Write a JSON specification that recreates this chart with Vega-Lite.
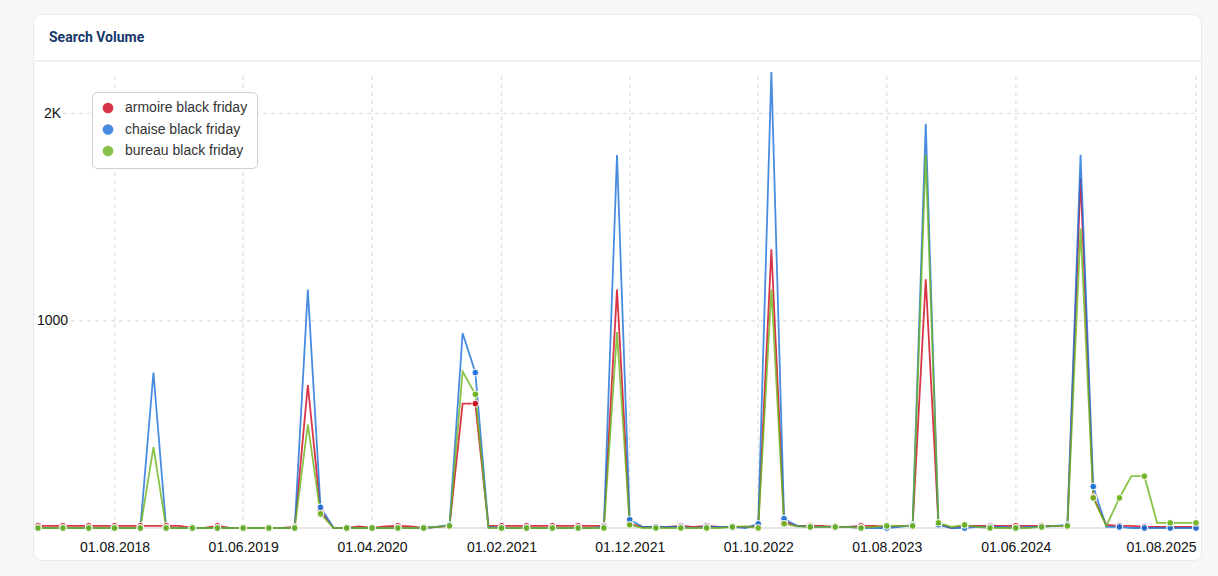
{
  "$schema": "https://vega.github.io/schema/vega-lite/v6.json",
  "autosize": {"type": "none"},
  "padding": {"left": 33, "top": 14, "right": 17, "bottom": 16},
  "width": 1168,
  "height": 546,
  "background": "#f7f7f7",
  "config": {
    "view": {"fill": "#ffffff", "stroke": "#e9e9e9", "strokeWidth": 1, "cornerRadius": 8},
    "font": "Liberation Sans"
  },
  "title": {
    "text": "Search Volume", "anchor": "start", "frame": "group", "orient": "top",
    "offset": -31, "dx": 16, "font": "Roboto", "fontSize": 14, "fontWeight": "bold", "color": "#17386b"
  },
  "data": {
    "values": [
      {"date": "2018-02-01", "armoire black friday": 10, "chaise black friday": 0, "bureau black friday": 0},
      {"date": "2018-03-01", "armoire black friday": 10, "chaise black friday": 0, "bureau black friday": 0},
      {"date": "2018-04-01", "armoire black friday": 10, "chaise black friday": 0, "bureau black friday": 0},
      {"date": "2018-05-01", "armoire black friday": 10, "chaise black friday": 0, "bureau black friday": 0},
      {"date": "2018-06-01", "armoire black friday": 10, "chaise black friday": 0, "bureau black friday": 0},
      {"date": "2018-07-01", "armoire black friday": 10, "chaise black friday": 0, "bureau black friday": 0},
      {"date": "2018-08-01", "armoire black friday": 10, "chaise black friday": 0, "bureau black friday": 0},
      {"date": "2018-09-01", "armoire black friday": 10, "chaise black friday": 0, "bureau black friday": 0},
      {"date": "2018-10-01", "armoire black friday": 10, "chaise black friday": 0, "bureau black friday": 0},
      {"date": "2018-11-01", "armoire black friday": 10, "chaise black friday": 750, "bureau black friday": 390},
      {"date": "2018-12-01", "armoire black friday": 10, "chaise black friday": 0, "bureau black friday": 0},
      {"date": "2019-01-01", "armoire black friday": 10, "chaise black friday": 0, "bureau black friday": 0},
      {"date": "2019-02-01", "armoire black friday": 0, "chaise black friday": 0, "bureau black friday": 0},
      {"date": "2019-03-01", "armoire black friday": 0, "chaise black friday": 0, "bureau black friday": 0},
      {"date": "2019-04-01", "armoire black friday": 10, "chaise black friday": 0, "bureau black friday": 0},
      {"date": "2019-05-01", "armoire black friday": 0, "chaise black friday": 0, "bureau black friday": 0},
      {"date": "2019-06-01", "armoire black friday": 0, "chaise black friday": 0, "bureau black friday": 0},
      {"date": "2019-07-01", "armoire black friday": 0, "chaise black friday": 0, "bureau black friday": 0},
      {"date": "2019-08-01", "armoire black friday": 0, "chaise black friday": 0, "bureau black friday": 0},
      {"date": "2019-09-01", "armoire black friday": 0, "chaise black friday": 0, "bureau black friday": 0},
      {"date": "2019-10-01", "armoire black friday": 5, "chaise black friday": 0, "bureau black friday": 0},
      {"date": "2019-11-01", "armoire black friday": 690, "chaise black friday": 1150, "bureau black friday": 500},
      {"date": "2019-12-01", "armoire black friday": 85, "chaise black friday": 100, "bureau black friday": 68},
      {"date": "2020-01-01", "armoire black friday": 0, "chaise black friday": 0, "bureau black friday": 0},
      {"date": "2020-02-01", "armoire black friday": 0, "chaise black friday": 0, "bureau black friday": 0},
      {"date": "2020-03-01", "armoire black friday": 8, "chaise black friday": 0, "bureau black friday": 0},
      {"date": "2020-04-01", "armoire black friday": 0, "chaise black friday": 0, "bureau black friday": 0},
      {"date": "2020-05-01", "armoire black friday": 8, "chaise black friday": 0, "bureau black friday": 0},
      {"date": "2020-06-01", "armoire black friday": 10, "chaise black friday": 0, "bureau black friday": 0},
      {"date": "2020-07-01", "armoire black friday": 8, "chaise black friday": 0, "bureau black friday": 0},
      {"date": "2020-08-01", "armoire black friday": 0, "chaise black friday": 0, "bureau black friday": 0},
      {"date": "2020-09-01", "armoire black friday": 5, "chaise black friday": 5, "bureau black friday": 5},
      {"date": "2020-10-01", "armoire black friday": 10, "chaise black friday": 15, "bureau black friday": 10},
      {"date": "2020-11-01", "armoire black friday": 600, "chaise black friday": 940, "bureau black friday": 755},
      {"date": "2020-12-01", "armoire black friday": 600, "chaise black friday": 750, "bureau black friday": 645},
      {"date": "2021-01-01", "armoire black friday": 10, "chaise black friday": 5, "bureau black friday": 0},
      {"date": "2021-02-01", "armoire black friday": 10, "chaise black friday": 0, "bureau black friday": 0},
      {"date": "2021-03-01", "armoire black friday": 10, "chaise black friday": 0, "bureau black friday": 0},
      {"date": "2021-04-01", "armoire black friday": 10, "chaise black friday": 0, "bureau black friday": 0},
      {"date": "2021-05-01", "armoire black friday": 10, "chaise black friday": 0, "bureau black friday": 0},
      {"date": "2021-06-01", "armoire black friday": 10, "chaise black friday": 0, "bureau black friday": 0},
      {"date": "2021-07-01", "armoire black friday": 10, "chaise black friday": 0, "bureau black friday": 0},
      {"date": "2021-08-01", "armoire black friday": 10, "chaise black friday": 0, "bureau black friday": 0},
      {"date": "2021-09-01", "armoire black friday": 10, "chaise black friday": 0, "bureau black friday": 0},
      {"date": "2021-10-01", "armoire black friday": 10, "chaise black friday": 5, "bureau black friday": 0},
      {"date": "2021-11-01", "armoire black friday": 1150, "chaise black friday": 1800, "bureau black friday": 945},
      {"date": "2021-12-01", "armoire black friday": 20, "chaise black friday": 40, "bureau black friday": 15},
      {"date": "2022-01-01", "armoire black friday": 5, "chaise black friday": 5, "bureau black friday": 0},
      {"date": "2022-02-01", "armoire black friday": 5, "chaise black friday": 5, "bureau black friday": 0},
      {"date": "2022-03-01", "armoire black friday": 5, "chaise black friday": 5, "bureau black friday": 0},
      {"date": "2022-04-01", "armoire black friday": 10, "chaise black friday": 5, "bureau black friday": 0},
      {"date": "2022-05-01", "armoire black friday": 5, "chaise black friday": 0, "bureau black friday": 0},
      {"date": "2022-06-01", "armoire black friday": 10, "chaise black friday": 5, "bureau black friday": 0},
      {"date": "2022-07-01", "armoire black friday": 5, "chaise black friday": 5, "bureau black friday": 0},
      {"date": "2022-08-01", "armoire black friday": 5, "chaise black friday": 5, "bureau black friday": 5},
      {"date": "2022-09-01", "armoire black friday": 5, "chaise black friday": 0, "bureau black friday": 8},
      {"date": "2022-10-01", "armoire black friday": 10, "chaise black friday": 20, "bureau black friday": 0},
      {"date": "2022-11-01", "armoire black friday": 1345, "chaise black friday": 2200, "bureau black friday": 1150},
      {"date": "2022-12-01", "armoire black friday": 30, "chaise black friday": 45, "bureau black friday": 20},
      {"date": "2023-01-01", "armoire black friday": 10, "chaise black friday": 10, "bureau black friday": 8},
      {"date": "2023-02-01", "armoire black friday": 10, "chaise black friday": 5, "bureau black friday": 5},
      {"date": "2023-03-01", "armoire black friday": 10, "chaise black friday": 5, "bureau black friday": 5},
      {"date": "2023-04-01", "armoire black friday": 5, "chaise black friday": 5, "bureau black friday": 5},
      {"date": "2023-05-01", "armoire black friday": 5, "chaise black friday": 5, "bureau black friday": 5},
      {"date": "2023-06-01", "armoire black friday": 10, "chaise black friday": 0, "bureau black friday": 0},
      {"date": "2023-07-01", "armoire black friday": 10, "chaise black friday": 0, "bureau black friday": 5},
      {"date": "2023-08-01", "armoire black friday": 5, "chaise black friday": 0, "bureau black friday": 10},
      {"date": "2023-09-01", "armoire black friday": 10, "chaise black friday": 5, "bureau black friday": 10},
      {"date": "2023-10-01", "armoire black friday": 10, "chaise black friday": 15, "bureau black friday": 10},
      {"date": "2023-11-01", "armoire black friday": 1200, "chaise black friday": 1950, "bureau black friday": 1800},
      {"date": "2023-12-01", "armoire black friday": 20, "chaise black friday": 15, "bureau black friday": 25},
      {"date": "2024-01-01", "armoire black friday": 0, "chaise black friday": 0, "bureau black friday": 5},
      {"date": "2024-02-01", "armoire black friday": 10, "chaise black friday": 0, "bureau black friday": 15},
      {"date": "2024-03-01", "armoire black friday": 10, "chaise black friday": 5, "bureau black friday": 5},
      {"date": "2024-04-01", "armoire black friday": 10, "chaise black friday": 5, "bureau black friday": 0},
      {"date": "2024-05-01", "armoire black friday": 10, "chaise black friday": 5, "bureau black friday": 0},
      {"date": "2024-06-01", "armoire black friday": 10, "chaise black friday": 0, "bureau black friday": 0},
      {"date": "2024-07-01", "armoire black friday": 10, "chaise black friday": 5, "bureau black friday": 0},
      {"date": "2024-08-01", "armoire black friday": 10, "chaise black friday": 5, "bureau black friday": 5},
      {"date": "2024-09-01", "armoire black friday": 10, "chaise black friday": 10, "bureau black friday": 10},
      {"date": "2024-10-01", "armoire black friday": 10, "chaise black friday": 15, "bureau black friday": 10},
      {"date": "2024-11-01", "armoire black friday": 1690, "chaise black friday": 1800, "bureau black friday": 1445},
      {"date": "2024-12-01", "armoire black friday": 150, "chaise black friday": 200, "bureau black friday": 145},
      {"date": "2025-01-01", "armoire black friday": 15, "chaise black friday": 5, "bureau black friday": 10},
      {"date": "2025-02-01", "armoire black friday": 10, "chaise black friday": 5, "bureau black friday": 145},
      {"date": "2025-03-01", "armoire black friday": 10, "chaise black friday": 0, "bureau black friday": 250},
      {"date": "2025-04-01", "armoire black friday": 5, "chaise black friday": 0, "bureau black friday": 250},
      {"date": "2025-05-01", "armoire black friday": 5, "chaise black friday": 0, "bureau black friday": 25},
      {"date": "2025-06-01", "armoire black friday": 5, "chaise black friday": 0, "bureau black friday": 25},
      {"date": "2025-07-01", "armoire black friday": 5, "chaise black friday": 0, "bureau black friday": 25},
      {"date": "2025-08-01", "armoire black friday": 5, "chaise black friday": 0, "bureau black friday": 25}
    ],
    "format": {"parse": {"date": "date"}}
  },
  "transform": [
    {"fold": ["armoire black friday", "chaise black friday", "bureau black friday"], "as": ["series", "volume"]}
  ],
  "layer": [
    {
      "data": {"values": [{"k": 1}]},
      "mark": {"type": "rule", "color": "#ebebeb", "strokeWidth": 1.5, "clip": true},
      "encoding": {
        "y": {"datum": 2253, "type": "quantitative", "scale": {"domain": [0, 2200], "range": [514, 58], "nice": false, "zero": true}},
        "x": {"datum": {"year": 2017, "month": 1, "date": 1, "utc": true}, "type": "temporal",
              "scale": {"type": "utc", "domain": [{"year": 2018, "month": 2, "date": 1, "utc": true}, {"year": 2025, "month": 8, "date": 1, "utc": true}], "range": [5, 1163], "nice": false}},
        "x2": {"datum": {"year": 2026, "month": 12, "date": 1, "utc": true}}
      }
    },
    {
      "data": {"values": [{"t": "2018-08-01"}, {"t": "2019-06-01"}, {"t": "2020-04-01"}, {"t": "2021-02-01"}, {"t": "2021-12-01"}, {"t": "2022-10-01"}, {"t": "2023-08-01"}, {"t": "2024-06-01"}, {"t": "2025-08-01"}], "format": {"parse": {"t": "date"}}},
      "mark": {"type": "rule", "color": "#e4e4e4", "strokeWidth": 1.5, "strokeDash": [4, 4]},
      "encoding": {
        "x": {"field": "t", "type": "temporal"},
        "y": {"datum": 0, "type": "quantitative"},
        "y2": {"datum": 2200}
      }
    },
    {
      "data": {"values": [{"v": 1000}, {"v": 2000}]},
      "mark": {"type": "rule", "color": "#e4e4e4", "strokeWidth": 1.5, "strokeDash": [4, 4]},
      "encoding": {
        "y": {"field": "v", "type": "quantitative"},
        "x": {"datum": {"year": 2018, "month": 4, "date": 1, "utc": true}, "type": "temporal"},
        "x2": {"datum": {"year": 2025, "month": 8, "date": 1, "utc": true}}
      }
    },
    {
      "data": {"values": [{"k": 1}]},
      "mark": {"type": "rule", "color": "#e6e6e6", "strokeWidth": 2},
      "encoding": {
        "y": {"datum": 0, "type": "quantitative"},
        "x": {"datum": {"year": 2018, "month": 2, "date": 1, "utc": true}, "type": "temporal"},
        "x2": {"datum": {"year": 2025, "month": 8, "date": 1, "utc": true}}
      }
    },
    {
      "mark": {"type": "line", "strokeWidth": 1.8, "opacity": 0.8, "interpolate": "linear"},
      "encoding": {
        "x": {"field": "date", "type": "temporal",
              "axis": {"title": null, "format": "%d.%m.%Y", "grid": false, "domain": false, "ticks": false, "tickSize": 0,
                       "values": [{"year": 2018, "month": 8, "date": 1, "utc": true}, {"year": 2019, "month": 6, "date": 1, "utc": true}, {"year": 2020, "month": 4, "date": 1, "utc": true}, {"year": 2021, "month": 2, "date": 1, "utc": true}, {"year": 2021, "month": 12, "date": 1, "utc": true}, {"year": 2022, "month": 10, "date": 1, "utc": true}, {"year": 2023, "month": 8, "date": 1, "utc": true}, {"year": 2024, "month": 6, "date": 1, "utc": true}, {"year": 2025, "month": 8, "date": 1, "utc": true}],
                       "labelPadding": -13, "labelBaseline": "middle", "labelFlush": true, "labelOverlap": false,
                       "labelFontSize": 14, "labelColor": "#111111", "labelFont": "Liberation Sans"}},
        "y": {"field": "volume", "type": "quantitative",
              "axis": {"title": null, "values": [1000, 2000], "labelExpr": "datum.value >= 2000 ? '2K' : '1000'",
                       "grid": false, "domain": false, "ticks": false, "tickSize": 0, "labelAlign": "center",
                       "labelPadding": -19, "labelBaseline": "middle", "labelFontSize": 14, "labelColor": "#111111", "labelFont": "Liberation Sans", "zindex": 1}},
        "color": {"field": "series", "type": "nominal",
                  "scale": {"domain": ["armoire black friday", "chaise black friday", "bureau black friday"], "range": ["#d0021b", "#1a6fd8", "#6cb41c"]},
                  "legend": {"orient": "none", "legendX": 59, "legendY": 78, "title": null, "symbolType": "circle", "symbolSize": 85,
                             "labelFont": "Liberation Sans", "labelFontSize": 14, "labelColor": "#333333", "padding": 9, "rowPadding": 5.5,
                             "fillColor": "#ffffff", "strokeColor": "#cfcfcf", "cornerRadius": 5, "labelOffset": 10,
                             "encode": {"symbols": {"update": {"fill": {"scale": "color", "field": "value"}, "stroke": {"value": "transparent"}, "opacity": {"value": 1}}}}}},
        "detail": {"field": "series"}
      }
    },
    {
      "transform": [{"filter": "utcmonth(datum.date) % 2 == 1"}],
      "mark": {"type": "point", "filled": true, "size": 46, "stroke": "#ffffff", "strokeWidth": 1, "fillOpacity": 0.9, "strokeOpacity": 1},
      "encoding": {
        "x": {"field": "date", "type": "temporal"},
        "y": {"field": "volume", "type": "quantitative"},
        "color": {"field": "series", "type": "nominal",
                  "legend": {"orient": "none", "legendX": 59, "legendY": 78, "title": null, "symbolType": "circle", "symbolSize": 85,
                             "labelFont": "Liberation Sans", "labelFontSize": 14, "labelColor": "#333333", "padding": 9, "rowPadding": 5.5,
                             "fillColor": "#ffffff", "strokeColor": "#cfcfcf", "cornerRadius": 5, "labelOffset": 10,
                             "encode": {"symbols": {"update": {"fill": {"scale": "color", "field": "value"}, "stroke": {"value": "transparent"}, "opacity": {"value": 1}}}}}}
      }
    }
  ]
}
